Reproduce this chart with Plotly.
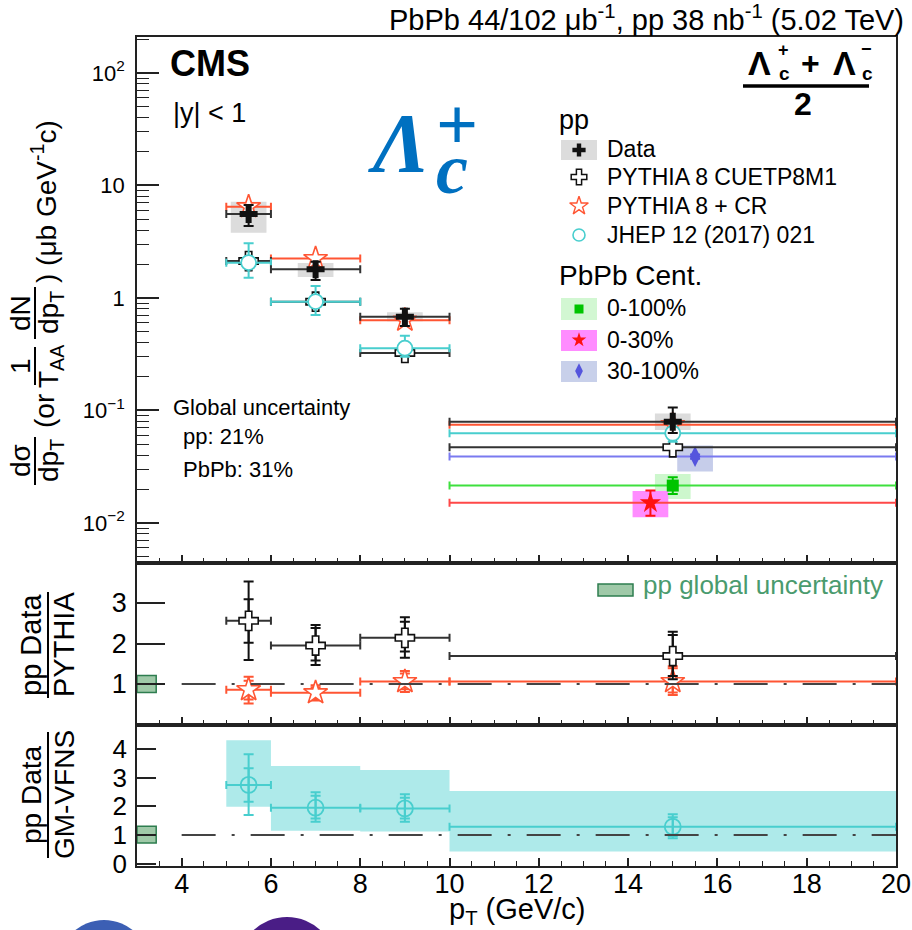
import plotly.graph_objects as go

W, H = 912, 930
L, R, T, B = 137, 896, 37, 866


def px(x):
    return (x - L) / (R - L)


def py(y):
    return (B - y) / (B - T)


FONT = "Liberation Sans, Arial, Helvetica, sans-serif"
SERIF = "Liberation Serif, DejaVu Serif, serif"

# ---------------- data ----------------
pt = [5.5, 7.0, 9.0, 15.0]
pt_lo = [5.0, 6.0, 8.0, 10.0]
pt_hi = [6.0, 8.0, 10.0, 20.0]

pp_data = [5.58, 1.80, 0.682, 0.0795]
pp_stat_up = [6.70, 2.10, 0.803, 0.106]
pp_stat_dn = [4.37, 1.445, 0.564, 0.063]
pp_syst_up = [7.18, 2.05, 0.746, 0.094]
pp_syst_dn = [3.80, 1.54, 0.621, 0.067]

pythia_cuetp8m1 = [2.13, 0.927, 0.325, 0.0471]
pythia_cr = [6.47, 2.24, 0.635, 0.0748]
gmvfns = [2.06, 0.927, 0.358, 0.0627]
gmvfns_up = [3.06, 1.28, 0.462, 0.0700]
gmvfns_dn = [1.515, 0.706, 0.300, 0.0528]

# PbPb centrality classes: 0-100%, 0-30%, 30-100%
pbpb_pt = [15.0, 14.5, 15.5]
pbpb_lo = [10.0, 10.0, 10.0]
pbpb_hi = [20.0, 20.0, 20.0]
pbpb_val = [0.0215, 0.0151, 0.0389]
pbpb_stat_up = [0.0255, 0.0194, 0.0405]
pbpb_stat_dn = [0.0181, 0.0116, 0.0372]
pbpb_syst_up = [0.0273, 0.0192, 0.0487]
pbpb_syst_dn = [0.0163, 0.01125, 0.0286]

# ratio pp data / PYTHIA
r_cuet = [2.56, 1.95, 2.14, 1.69]
r_cuet_tot_up = [3.53, 2.46, 2.65, 2.29]
r_cuet_tot_dn = [1.59, 1.47, 1.65, 1.12]
r_cuet_stat_up = [3.09, 2.38, 2.54, 2.21]
r_cuet_stat_dn = [2.02, 1.58, 1.80, 1.20]

r_cr = [0.86, 0.785, 1.06, 1.06]
r_cr_tot_up = [1.18, 0.97, 1.32, 1.44]
r_cr_tot_dn = [0.52, 0.59, 0.80, 0.73]
r_cr_stat_up = [1.08, 0.92, 1.26, 1.39]
r_cr_stat_dn = [0.62, 0.62, 0.87, 0.79]

# ratio pp data / GM-VFNS
r_gm = [2.75, 1.955, 1.93, 1.29]
r_gm_tot_up = [3.82, 2.49, 2.42, 1.73]
r_gm_tot_dn = [1.70, 1.465, 1.465, 0.885]
r_gm_stat_up = [3.33, 2.37, 2.30, 1.62]
r_gm_stat_dn = [2.16, 1.58, 1.58, 0.97]
r_gm_band_up = [4.31, 3.41, 3.27, 2.54]
r_gm_band_dn = [1.99, 1.15, 1.12, 0.43]

global_box_pythia = [0.79, 1.21]
global_box_gm = [0.72, 1.31]
global_box_x = [3.0, 3.43]
syst_halfwidth = 0.4

# ---------------- helpers ----------------
def rects(x0, x1, y0, y1):
    xs, ys = [], []
    for a, b, c, d in zip(x0, x1, y0, y1):
        xs += [a, b, b, a, a, None]
        ys += [c, c, d, d, c, None]
    return xs, ys


def yerr(val, up, dn, color, width=5, thick=2):
    return dict(type="data", symmetric=False,
                array=[u - v for u, v in zip(up, val)],
                arrayminus=[v - d for v, d in zip(val, dn)],
                color=color, thickness=thick, width=width)


def xerr(x, lo, hi, color, width=4, thick=2):
    return dict(type="data", symmetric=False,
                array=[h - v for h, v in zip(hi, x)],
                arrayminus=[v - l for v, l in zip(x, lo)],
                color=color, thickness=thick, width=width)


fig = go.Figure()

BLACK = "#111111"
ORANGE = "#ff5533"
CYAN = "#48cece"
GREEN_M = "#00c400"
GREEN_L = "#3ee03e"
RED = "#ff1010"
RED_L = "#ff4848"
BLUE_M = "#5555dd"
BLUE_L = "#7a7af0"

# ---------- top panel ----------
bx, by = rects([p - syst_halfwidth for p in pt], [p + syst_halfwidth for p in pt], pp_syst_dn, pp_syst_up)
fig.add_trace(go.Scatter(x=bx, y=by, fill="toself", fillcolor="#dcdcdc", line=dict(width=0),
                         mode="lines", xaxis="x", yaxis="y"))
pb_box_colors = ["#cdf7cd", "#ff8cff", "#c6cdea"]
for i in range(3):
    bx, by = rects([pbpb_pt[i] - syst_halfwidth], [pbpb_pt[i] + syst_halfwidth],
                   [pbpb_syst_dn[i]], [pbpb_syst_up[i]])
    fig.add_trace(go.Scatter(x=bx, y=by, fill="toself", fillcolor=pb_box_colors[i], line=dict(width=0),
                             mode="lines", xaxis="x", yaxis="y"))

# PbPb points
pb_styles = [("square", 12, GREEN_M, GREEN_L), ("star", 16, RED, RED_L), ("diamond-tall", 15, BLUE_M, BLUE_L)]
for i, (sym, sz, mc, lc) in enumerate(pb_styles):
    fig.add_trace(go.Scatter(
        x=[pbpb_pt[i]], y=[pbpb_val[i]], mode="markers",
        marker=dict(symbol=sym, size=sz, color=mc, line=dict(width=0)),
        error_x=xerr([pbpb_pt[i]], [pbpb_lo[i]], [pbpb_hi[i]], lc),
        error_y=yerr([pbpb_val[i]], [pbpb_stat_up[i]], [pbpb_stat_dn[i]], mc),
        xaxis="x", yaxis="y"))

fig.add_trace(go.Scatter(
    x=pt, y=pythia_cr, mode="markers",
    marker=dict(symbol="star", size=18, color="white", line=dict(width=1.6, color=ORANGE)),
    error_x=xerr(pt, pt_lo, pt_hi, ORANGE), xaxis="x", yaxis="y"))
fig.add_trace(go.Scatter(
    x=pt, y=pythia_cuetp8m1, mode="markers",
    marker=dict(symbol="cross", size=16, color="white", line=dict(width=1.6, color=BLACK)),
    error_x=xerr(pt, pt_lo, pt_hi, "#333333"), xaxis="x", yaxis="y"))
fig.add_trace(go.Scatter(
    x=pt, y=gmvfns, mode="markers",
    marker=dict(symbol="circle", size=15, color="white", line=dict(width=1.8, color=CYAN)),
    error_x=xerr(pt, pt_lo, pt_hi, CYAN),
    error_y=yerr(gmvfns, gmvfns_up, gmvfns_dn, CYAN), xaxis="x", yaxis="y"))
fig.add_trace(go.Scatter(
    x=pt, y=pp_data, mode="markers",
    marker=dict(symbol="cross", size=15, color=BLACK, line=dict(width=0)),
    error_x=xerr(pt, pt_lo, pt_hi, "#333333"),
    error_y=yerr(pp_data, pp_stat_up, pp_stat_dn, BLACK), xaxis="x", yaxis="y"))

# ---------- middle panel ----------
gx, gy = rects([global_box_x[0]], [global_box_x[1]], [global_box_pythia[0]], [global_box_pythia[1]])
fig.add_trace(go.Scatter(x=gx, y=gy, fill="toself", fillcolor="#9fc9a8", mode="lines",
                         line=dict(width=1.5, color="#2e7d4f"), xaxis="x2", yaxis="y2"))
for val, tu, td, su, sd, col, sym, sz in [
        (r_cr, r_cr_tot_up, r_cr_tot_dn, r_cr_stat_up, r_cr_stat_dn, ORANGE, "star", 18),
        (r_cuet, r_cuet_tot_up, r_cuet_tot_dn, r_cuet_stat_up, r_cuet_stat_dn, BLACK, "cross", 16)]:
    fig.add_trace(go.Scatter(x=pt, y=val, mode="markers", marker=dict(size=1, color="rgba(0,0,0,0)"),
                             error_y=yerr(val, tu, td, col, width=5), xaxis="x2", yaxis="y2"))
    fig.add_trace(go.Scatter(
        x=pt, y=val, mode="markers",
        marker=dict(symbol=sym, size=sz, color="white", line=dict(width=1.6, color=col)),
        error_x=xerr(pt, pt_lo, pt_hi, col if col != BLACK else "#333333"),
        error_y=yerr(val, su, sd, col, width=5), xaxis="x2", yaxis="y2"))

# ---------- bottom panel ----------
cx, cy = rects(pt_lo, pt_hi, r_gm_band_dn, r_gm_band_up)
fig.add_trace(go.Scatter(x=cx, y=cy, fill="toself", fillcolor="#aeeaea", mode="lines",
                         line=dict(width=0), xaxis="x3", yaxis="y3"))
gx, gy = rects([global_box_x[0]], [global_box_x[1]], [global_box_gm[0]], [global_box_gm[1]])
fig.add_trace(go.Scatter(x=gx, y=gy, fill="toself", fillcolor="#9fc9a8", mode="lines",
                         line=dict(width=1.5, color="#2e7d4f"), xaxis="x3", yaxis="y3"))
fig.add_trace(go.Scatter(x=pt, y=r_gm, mode="markers", marker=dict(size=1, color="rgba(0,0,0,0)"),
                         error_y=yerr(r_gm, r_gm_tot_up, r_gm_tot_dn, CYAN, width=5), xaxis="x3", yaxis="y3"))
fig.add_trace(go.Scatter(
    x=pt, y=r_gm, mode="markers",
    marker=dict(symbol="circle", size=16, color="rgba(255,255,255,0)", line=dict(width=1.8, color=CYAN)),
    error_x=xerr(pt, pt_lo, pt_hi, CYAN),
    error_y=yerr(r_gm, r_gm_stat_up, r_gm_stat_dn, CYAN, width=5), xaxis="x3", yaxis="y3"))

# ---------- legend keys (pixel overlay axis) ----------
LEGX = 579
leg_keys = [
    ("cross", 11, BLACK, 0, BLACK, 150),
    ("cross", 13, "white", 1.5, BLACK, 177),
    ("star", 14, "white", 1.4, ORANGE, 206),
    ("circle", 12, "white", 1.6, CYAN, 235),
    ("square", 9, GREEN_M, 0, GREEN_M, 309),
    ("star", 11, RED, 0, RED, 340),
    ("diamond-tall", 11, BLUE_M, 0, BLUE_M, 371),
]
for sym, sz, fc, lw, lc, yy in leg_keys:
    fig.add_trace(go.Scatter(x=[LEGX], y=[yy], mode="markers",
                             marker=dict(symbol=sym, size=sz, color=fc, line=dict(width=lw, color=lc)),
                             xaxis="x4", yaxis="y4", cliponaxis=False))

for tr in fig.data:
    tr.showlegend = False
    tr.hoverinfo = "skip"

# ---------- shapes ----------
shapes = []
for yr, ref in [("y2", "x2"), ("y3", "x3")]:
    shapes.append(dict(type="line", xref=ref, yref=yr, x0=4, x1=20, y0=1, y1=1,
                       line=dict(color="#444444", width=2, dash="34px,16px,3px,16px")))
# legend boxes
for (y0, y1, fc) in [(140, 160, "#dcdcdc"), (298, 320, "#d2f7d2"), (330, 351, "#ff8cff"), (361, 382, "#c8d0ea")]:
    shapes.append(dict(type="rect", xref="paper", yref="paper", x0=px(561), x1=px(597), y0=py(y1), y1=py(y0),
                       fillcolor=fc, line=dict(width=0), layer="below"))
shapes.append(dict(type="rect", xref="paper", yref="paper", x0=px(598), x1=px(633), y0=py(596), y1=py(584),
                   fillcolor="#9fc9a8", line=dict(width=1.5, color="#2e7d4f")))


def hbar(x0, x1, y, w=2.5):
    shapes.append(dict(type="line", xref="paper", yref="paper", x0=px(x0), x1=px(x1), y0=py(y), y1=py(y),
                       line=dict(color="black", width=w)))


def vbar(x, y0, y1, w=2):
    shapes.append(dict(type="line", xref="paper", yref="paper", x0=px(x), x1=px(x), y0=py(y0), y1=py(y1),
                       line=dict(color="black", width=w)))


hbar(743, 869, 86, 3.5)
# logo fragments at the bottom edge
shapes.append(dict(type="circle", xref="paper", yref="paper", x0=px(58), x1=px(150), y0=py(1012), y1=py(920),
                   fillcolor="#3c5fb4", line=dict(width=0)))
shapes.append(dict(type="circle", xref="paper", yref="paper", x0=px(238), x1=px(336), y0=py(1015), y1=py(917),
                   fillcolor="#4a1d86", line=dict(width=0)))

# ---------- annotations ----------
anns = []


def txt(s, x, y, size, color="black", xanchor="center", yanchor="middle", angle=0, family=FONT):
    anns.append(dict(text=s, x=px(x), y=py(y), xref="paper", yref="paper", showarrow=False,
                     font=dict(size=size, color=color, family=family), xanchor=xanchor, yanchor=yanchor,
                     textangle=angle))


txt("PbPb 44/102 μb<sup>-1</sup>, pp 38 nb<sup>-1</sup> (5.02 TeV)", 906, 18, 29, xanchor="right")
txt("<b>CMS</b>", 168, 63, 36, xanchor="left")
txt("|y| < 1", 171, 113, 27, xanchor="left")
txt("Global uncertainty", 171, 407, 22, xanchor="left")
txt("pp: 21%", 181, 437, 22, xanchor="left")
txt("PbPb: 31%", 181, 469, 22, xanchor="left")

# Lambda_c fraction (top right)
txt("<b>Λ</b>", 759, 63, 34)
txt("<b>+</b>", 783, 50, 18)
txt("<b>c</b>", 784, 74, 19)
txt("<b>+</b>", 810, 63, 32)
txt("<b>Λ</b>", 844, 63, 34)
txt("<b>−</b>", 866, 49, 18)
txt("<b>c</b>", 867, 74, 19)
txt("<b>2</b>", 803, 104, 32)

# big blue Lambda_c+
txt("<b><i>Λ</i></b>", 398, 143, 84, color="#0070c0", family=SERIF)
txt("<b>+</b>", 457, 124, 74, color="#0070c0", family=SERIF)
txt("<b><i>c</i></b>", 452, 169, 72, color="#0070c0", family=SERIF)

# legend text
txt("pp", 557, 120, 27, xanchor="left")
txt("Data", 605, 149, 23, xanchor="left")
txt("PYTHIA 8 CUETP8M1", 605, 177, 23, xanchor="left")
txt("PYTHIA 8 + CR", 605, 206, 23, xanchor="left")
txt("JHEP 12 (2017) 021", 605, 235, 23, xanchor="left")
txt("PbPb Cent.", 557, 275, 28, xanchor="left")
txt("0-100%", 605, 308, 23, xanchor="left")
txt("0-30%", 605, 340, 23, xanchor="left")
txt("30-100%", 605, 371, 23, xanchor="left")
txt("pp global uncertainty", 641, 585, 26, color="#4a9b6e", xanchor="left")

# x title
txt("p<sub>T</sub> (GeV/c)", 588, 911, 29, xanchor="right")

# y titles (rotated fractions)
RS = 28


def vfrac(num, den, yc, length, xn, xb, xd, size=RS):
    txt(num, xn, yc, size, angle=-90)
    txt(den, xd, yc, size, angle=-90)
    vbar(xb, yc - length / 2, yc + length / 2)


vfrac("dσ", "dp<sub>T</sub>", 461, 48, 20, 35, 50)
txt("(or", 44, 411, RS, angle=-90)
vfrac("1", "T<sub>AA</sub>", 366, 38, 20, 35, 50)
vfrac("dN", "dp<sub>T</sub>", 313, 52, 20, 35, 50)
txt(") (μb GeV<sup>-1</sup>c)", 44, 202, RS, angle=-90)

vfrac("pp Data", "PYTHIA", 645, 106, 31, 48, 64, size=29)
vfrac("pp Data", "GM-VFNS", 795, 126, 31, 48, 64, size=28)

# ---------- axes ----------
AX = "#222222"


def xax(show_labels, anchor):
    return dict(range=[3, 20], domain=[0, 1], anchor=anchor, showline=True, linecolor=AX, linewidth=1.5,
                mirror=True, ticks="inside", tickcolor=AX, tickwidth=1.5, ticklen=8, dtick=2, tick0=0,
                minor=dict(dtick=0.5, tick0=0, ticklen=5, ticks="inside", tickcolor=AX, tickwidth=1.2),
                showgrid=False, zeroline=False, showticklabels=show_labels, automargin=False,
                ticklabelstandoff=-7,
                tickfont=dict(family=FONT, size=27, color="black"))


minor_log = [m * 10 ** e for e in range(-3, 3) for m in range(2, 10) if 0.0044 < m * 10 ** e < 209]
layout = dict(
    width=W, height=H, margin=dict(l=L, r=W - R, t=T, b=H - B, autoexpand=False),
    paper_bgcolor="white", plot_bgcolor="rgba(0,0,0,0)", showlegend=False,
    xaxis=xax(False, "y"), xaxis2=xax(False, "y2"), xaxis3=xax(True, "y3"),
    yaxis=dict(type="log", range=[-2.356, 2.32], domain=[py(563), 1], anchor="x", automargin=False,
               showline=True, linecolor=AX, linewidth=1.5, mirror=True, ticks="inside", tickcolor=AX,
               tickwidth=1.5, ticklen=22, tickmode="array", tickvals=[0.01, 0.1, 1, 10, 100],
               ticktext=["10<sup>−2</sup>", "10<sup>−1</sup>", "1", "10", "10<sup>2</sup>"],
               minor=dict(tickmode="array", tickvals=minor_log, ticklen=12, ticks="inside", tickcolor=AX,
                          tickwidth=1.2),
               showgrid=False, zeroline=False, tickfont=dict(family=FONT, size=22, color="black"),
               ticklabelstandoff=6),
    yaxis2=dict(range=[-0.012, 3.988], domain=[py(725), py(563)], anchor="x2", automargin=False,
                showline=True, linecolor=AX, linewidth=1.5, mirror=True, ticks="inside", tickcolor=AX,
                tickwidth=1.5, ticklen=28, tickmode="array", tickvals=[1, 2, 3],
                showgrid=False, zeroline=False, tickfont=dict(family=FONT, size=27, color="black"),
                ticklabelstandoff=3),
    yaxis3=dict(range=[-0.08, 4.84], domain=[0, py(725)], anchor="x3", automargin=False,
                showline=True, linecolor=AX, linewidth=1.5, mirror=True, ticks="inside", tickcolor=AX,
                tickwidth=1.5, ticklen=19, tickmode="array", tickvals=[0, 1, 2, 3, 4],
                showgrid=False, zeroline=False, tickfont=dict(family=FONT, size=26, color="black"),
                ticklabelstandoff=3),
    xaxis4=dict(domain=[0, 1], range=[L, R], visible=False, anchor="y4", fixedrange=True, automargin=False),
    yaxis4=dict(domain=[0, 1], range=[B, T], visible=False, anchor="x4", fixedrange=True, automargin=False),
    shapes=shapes, annotations=anns,
)
fig.update_layout(**layout)
fig.write_html("out.html")
